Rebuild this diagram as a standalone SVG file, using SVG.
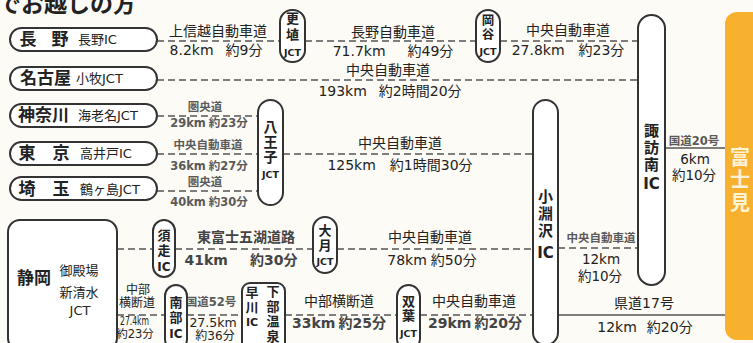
<svg xmlns="http://www.w3.org/2000/svg" width="753" height="343" viewBox="0 0 753 343">
<style>
.bg{fill:#fcfbf6}
.pill{fill:#fff;stroke:#333;stroke-width:2}
.dash{fill:none;stroke:#555;stroke-width:1.6;stroke-dasharray:7 4}
.solid{fill:none;stroke:#555;stroke-width:1.4}
text{font-family:"DejaVu Sans","Noto Sans CJK JP",sans-serif;fill:#222}
.c{text-anchor:middle}
.big{font-size:17px;font-weight:700}
.sub{font-size:13px}
.rd{font-size:14px}
.sm{font-size:11.5px;font-weight:700;fill:#5a5a5a}
.v{font-size:13px;font-weight:700;text-anchor:middle}
.vb{font-size:15px;font-weight:700;text-anchor:middle}
.jct{font-size:9.5px;font-weight:700;text-anchor:middle}
</style>
<rect class="bg" x="0" y="0" width="753" height="343"/>
<text x="-2" y="12" style="font-size:23px;font-weight:700;fill:#222">でお越しの方</text>

<g id="connectors">
<path class="dash" d="M157 41H280M305 41H476M500 41H638M157 80H638M157 116H258M157 154H258M283 154H533M157 191H258M117 249H153M175 249H313M337 249H533M558 248H638M117 315H165M187 315H242M285 315H397M420 315H533"/>
<path class="solid" d="M665 148H725M558 315H725"/>
</g>

<g id="labels">
<text class="rd c" x="218" y="36">上信越自動車道</text>
<text class="rd c" x="216" y="55">8.2km<tspan dx="12">約9分</tspan></text>
<text class="rd c" x="393" y="37">長野自動車道</text>
<text class="rd c" x="393" y="56">71.7km<tspan dx="22">約49分</tspan></text>
<text class="rd c" x="568" y="35">中央自動車道</text>
<text class="rd c" x="568" y="55">27.8km<tspan dx="14">約23分</tspan></text>
<text class="rd c" x="388" y="75">中央自動車道</text>
<text class="rd c" x="390" y="96">193km<tspan dx="12">約2時間20分</tspan></text>
<text class="sm c" x="205" y="111">圏央道</text>
<text class="sm c" x="209" y="127">29km<tspan dx="3">約23分</tspan></text>
<text class="sm c" x="208" y="149">中央自動車道</text>
<text class="sm c" x="209" y="170">36km<tspan dx="3">約27分</tspan></text>
<text class="sm c" x="205" y="186">圏央道</text>
<text class="sm c" x="209" y="206">40km<tspan dx="3">約30分</tspan></text>
<text class="rd c" x="400" y="148">中央自動車道</text>
<text class="rd c" x="400" y="170">125km<tspan dx="14">約1時間30分</tspan></text>
<text class="sm c" x="694" y="145">国道20号</text>
<text class="c" x="695" y="164" style="font-size:13.5px">6km</text>
<text class="c" x="694" y="180" style="font-size:13.5px">約10分</text>
<text class="rd c" x="246" y="242" style="font-weight:700;fill:#444">東富士五湖道路</text>
<text class="rd c" x="241" y="265" style="font-weight:700;fill:#444">41km<tspan dx="22">約30分</tspan></text>
<text class="rd c" x="430" y="242">中央自動車道</text>
<text class="rd c" x="432" y="265">78km<tspan dx="4">約50分</tspan></text>
<text class="sm c" x="601" y="242">中央自動車道</text>
<text class="c" x="601" y="264" style="font-size:13.5px">12km</text>
<text class="c" x="600" y="281" style="font-size:13.5px">約10分</text>
<text class="c" x="138" y="294" style="font-size:12px">中部</text>
<text class="c" x="137" y="307" style="font-size:12px">横断道</text>
<text x="120" y="325" textLength="29" lengthAdjust="spacingAndGlyphs" style="font-size:12px">27.4km</text>
<text class="c" x="135" y="338" style="font-size:11.5px">約23分</text>
<text class="sm c" x="211" y="306">国道52号</text>
<text class="c" x="213" y="327" style="font-size:12.5px">27.5km</text>
<text class="c" x="215" y="340" style="font-size:12px">約36分</text>
<text class="rd c" x="339" y="306">中部横断道</text>
<text class="rd c" x="339" y="328" style="font-weight:700;fill:#444">33km<tspan dx="3">約25分</tspan></text>
<text class="rd c" x="474" y="306">中央自動車道</text>
<text class="rd c" x="475" y="328" style="font-weight:700;fill:#444">29km<tspan dx="3">約20分</tspan></text>
<text class="rd c" x="644" y="308">県道17号</text>
<text class="rd c" x="645" y="332">12km<tspan dx="10">約20分</tspan></text>
</g>

<g id="nagano">
<rect class="pill" x="10" y="28" width="147" height="23" rx="11.5"/>
<text class="big c" x="28" y="45">長</text><text class="big c" x="60" y="45">野</text>
<text class="sub" x="78" y="44">長野IC</text>
</g>
<g id="nagoya">
<rect class="pill" x="10" y="67" width="147" height="23" rx="11.5"/>
<text class="big" x="20" y="84">名古屋</text>
<text class="sub" x="76" y="83">小牧JCT</text>
</g>
<g id="kanagawa">
<rect class="pill" x="10" y="104" width="147" height="23" rx="11.5"/>
<text class="big" x="18" y="121">神奈川</text>
<text class="sub" x="78" y="120">海老名JCT</text>
</g>
<g id="tokyo">
<rect class="pill" x="10" y="142" width="147" height="23" rx="11.5"/>
<text class="big c" x="27" y="159">東</text><text class="big c" x="61" y="159">京</text>
<text class="sub" x="80" y="158">高井戸IC</text>
</g>
<g id="saitama">
<rect class="pill" x="10" y="177" width="147" height="23" rx="11.5"/>
<text class="big c" x="27" y="195">埼</text><text class="big c" x="61" y="195">玉</text>
<text class="sub" x="80" y="194">鶴ヶ島JCT</text>
</g>
<g id="koshoku">
<rect class="pill" x="280" y="10" width="25" height="52" rx="12"/>
<text class="v" x="292.5" y="23">更</text><text class="v" x="292.5" y="39">埴</text><text class="jct" x="292.5" y="56">JCT</text>
</g>
<g id="okaya">
<rect class="pill" x="476" y="10" width="24" height="52" rx="12"/>
<text class="v" x="488" y="25" style="font-size:12.5px">岡</text><text class="v" x="488" y="39" style="font-size:12.5px">谷</text><text class="jct" x="488" y="55">JCT</text>
</g>
<g id="suwaminami">
<rect class="pill" x="638" y="15" width="27" height="270" rx="13.5"/>
<text class="vb" x="651.5" y="136">諏</text><text class="vb" x="651.5" y="153">訪</text><text class="vb" x="651.5" y="170">南</text><text class="vb" x="651.5" y="189">IC</text>
</g>
<g id="hachioji">
<rect class="pill" x="258" y="100" width="25" height="105" rx="12.5"/>
<text class="v" x="270.5" y="132" style="font-size:14px">八</text><text class="v" x="270.5" y="147" style="font-size:14px">王</text><text class="v" x="270.5" y="162" style="font-size:14px">子</text><text class="jct" x="270.5" y="178">JCT</text>
</g>
<g id="kobuchizawa">
<rect class="pill" x="533" y="100" width="25" height="245" rx="12.5"/>
<text class="vb" x="545.5" y="202">小</text><text class="vb" x="545.5" y="219">淵</text><text class="vb" x="545.5" y="236">沢</text><text class="vb" x="545.5" y="258">IC</text>
</g>
<g id="fujimi">
<rect x="725" y="12" width="40" height="328" rx="12" fill="#f7b12e"/>
<text x="740" y="165" style="font-size:20px;font-weight:700;fill:#fff3d6;text-anchor:middle">富</text>
<text x="740" y="187" style="font-size:20px;font-weight:700;fill:#fff3d6;text-anchor:middle">士</text>
<text x="740" y="210" style="font-size:20px;font-weight:700;fill:#fff3d6;text-anchor:middle">見</text>
</g>
<g id="shizuoka">
<rect class="pill" x="8" y="220" width="109" height="130" rx="12"/>
<text x="17" y="284" style="font-size:17px;font-weight:700">静岡</text>
<text class="sub c" x="79" y="275">御殿場</text>
<text class="sub c" x="79" y="297">新清水</text>
<text class="sub c" x="80" y="315">JCT</text>
</g>
<g id="subashiri">
<rect class="pill" x="153" y="220" width="22" height="57" rx="11"/>
<text class="v" x="164" y="240">須</text><text class="v" x="164" y="255">走</text><text class="v" x="164" y="271" style="font-size:12px">IC</text>
</g>
<g id="otsuki">
<rect class="pill" x="313" y="217" width="24" height="56" rx="12"/>
<text class="v" x="325" y="235">大</text><text class="v" x="325" y="250">月</text><text class="jct" x="325" y="265">JCT</text>
</g>
<g id="nanbu">
<rect class="pill" x="165" y="285" width="22" height="65" rx="11"/>
<text class="v" x="176" y="307">南</text><text class="v" x="176" y="322">部</text><text class="v" x="176" y="338" style="font-size:12px">IC</text>
</g>
<g id="hayakawa">
<rect class="pill" x="242" y="283" width="43" height="67" rx="8"/>
<text class="v" x="252" y="297">早</text><text class="v" x="252" y="312">川</text><text class="v" x="252" y="326" style="font-size:11px">IC</text>
<text class="v" x="273" y="296">下</text><text class="v" x="273" y="311">部</text><text class="v" x="273" y="326">温</text><text class="v" x="273" y="341">泉</text>
</g>
<g id="futaba">
<rect class="pill" x="397" y="285" width="23" height="65" rx="11.5"/>
<text class="v" x="408.5" y="306">双</text><text class="v" x="408.5" y="320">葉</text><text class="jct" x="408.5" y="337">JCT</text>
</g>
</svg>
